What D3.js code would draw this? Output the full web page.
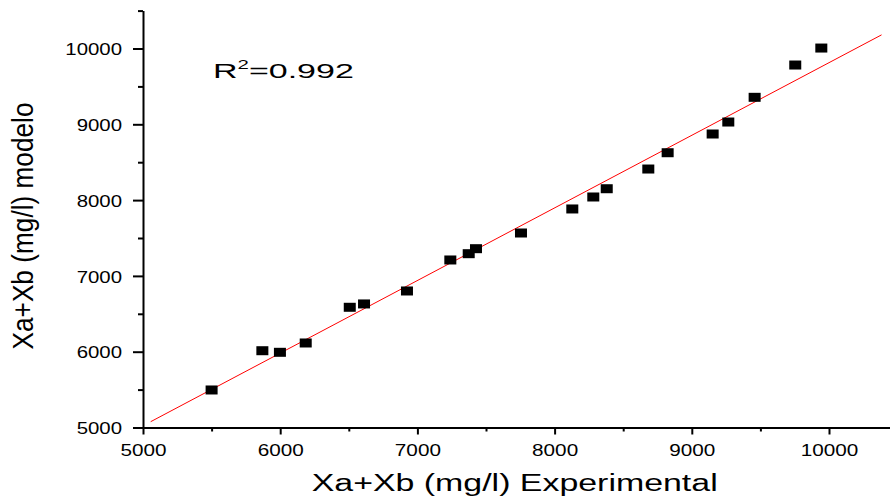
<!DOCTYPE html>
<html>
<head>
<meta charset="utf-8">
<script src="https://cdn.jsdelivr.net/npm/d3@7"></script>
<style>
  body { margin: 0; background: #fff; }
  svg { display: block; font-family: "Liberation Sans", Arial, sans-serif; }
</style>
</head>
<body>
<div id="chart"></div>
<script>
const WIDTH = 890
const HEIGHT = 502

// valeurs
const expX = [5500, 5870, 5998, 6186, 6507, 6611, 6924, 7240, 7374, 7427, 7755, 8129, 8282, 8380, 8683, 8824, 9152, 9266, 9458, 9754, 9944]
const modY = [5495, 6013, 5992, 6115, 6586, 6630, 6801, 7210, 7293, 7359, 7566, 7883, 8041, 8150, 8410, 8625, 8872, 9030, 9356, 9782, 10006]

const majorTicks = [5000, 6000, 7000, 8000, 9000, 10000]
const minorTicks = [5500, 6500, 7500, 8500, 9500, 10500]

// droite d'ajustement
const fitSlope = 0.958
const fitIntercept = 233
const fitRange = [5056, 10383]

const r2Label = "0.992"

const x = d3.scaleLinear().domain([5000, 10500]).range([143, 897.6])
const y = d3.scaleLinear().domain([5000, 10500]).range([427.5, 10.6])

const svg = d3.select("#chart")
  .append("svg")
  .attr("width", WIDTH)
  .attr("height", HEIGHT)

// axe x
svg.append("g")
  .attr("transform", "translate(0,427.5)")
  .call(d3.axisBottom(x).tickValues(minorTicks).tickSize(4).tickSizeOuter(0).tickFormat(""))
  .call(g => g.select(".domain").remove())
  .call(g => g.selectAll("line").attr("stroke-width", 2))

svg.append("g")
  .attr("transform", "translate(0,427.5)")
  .call(d3.axisBottom(x).tickValues(majorTicks).tickSize(7).tickSizeOuter(0).tickFormat(d3.format("d")))
  .call(g => g.select(".domain").attr("stroke-width", 2))
  .call(g => g.selectAll("line").attr("stroke-width", 2))
  .call(g => g.selectAll("text")
    .attr("y", 0).attr("dy", 0)
    .attr("transform", "translate(0,28.5) scale(1.22,1)")
    .attr("font-size", 17)
    .attr("fill", "#000"))

// axe y
svg.append("g")
  .attr("transform", "translate(143,0)")
  .call(d3.axisLeft(y).tickValues(minorTicks).tickSize(5).tickSizeOuter(0).tickFormat(""))
  .call(g => g.select(".domain").remove())
  .call(g => g.selectAll("line").attr("stroke-width", 2))

svg.append("g")
  .attr("transform", "translate(143,0)")
  .call(d3.axisLeft(y).tickValues(majorTicks).tickSize(10).tickSizeOuter(0).tickFormat(d3.format("d")))
  .call(g => g.select(".domain").attr("stroke-width", 2))
  .call(g => g.selectAll("line").attr("stroke-width", 2))
  .call(g => g.selectAll("text")
    .attr("x", 0).attr("dy", "0.36em")
    .attr("transform", "translate(-21,0) scale(1.2,1)")
    .attr("font-size", 17)
    .attr("fill", "#000"))

// droite rouge
svg.append("line")
  .attr("x1", x(fitRange[0]))
  .attr("y1", y(fitIntercept + fitSlope * fitRange[0]))
  .attr("x2", x(fitRange[1]))
  .attr("y2", y(fitIntercept + fitSlope * fitRange[1]))
  .attr("stroke", "#ff0000")
  .attr("stroke-width", 1)

// points
svg.append("g")
  .selectAll("rect")
  .data(expX)
  .join("rect")
    .attr("x", (d, i) => x(d) - 6)
    .attr("y", (d, i) => y(modY[i]) - 4.5)
    .attr("width", 12)
    .attr("height", 9)
    .attr("fill", "#000")

// R²
const r2 = svg.append("text")
  .attr("transform", "translate(213,78) scale(1.7,1)")
  .attr("font-size", 20)
  .attr("fill", "#000")
r2.append("tspan").text("R")
r2.append("tspan").attr("font-size", 12).attr("dy", -9).text("2")
r2.append("tspan").attr("dy", 9).text("=" + r2Label)

// titres des axes
svg.append("text")
  .attr("x", 311.7)
  .attr("y", 491)
  .attr("font-size", 23)
  .attr("textLength", 406)
  .attr("lengthAdjust", "spacingAndGlyphs")
  .attr("fill", "#000")
  .text("Xa+Xb (mg/l) Experimental")

svg.append("text")
  .attr("transform", "translate(33,226) rotate(-90) scale(1,1.2)")
  .attr("text-anchor", "middle")
  .attr("font-size", 24)
  .attr("textLength", 247)
  .attr("lengthAdjust", "spacingAndGlyphs")
  .attr("fill", "#000")
  .text("Xa+Xb (mg/l) modelo")
</script>
</body>
</html>
